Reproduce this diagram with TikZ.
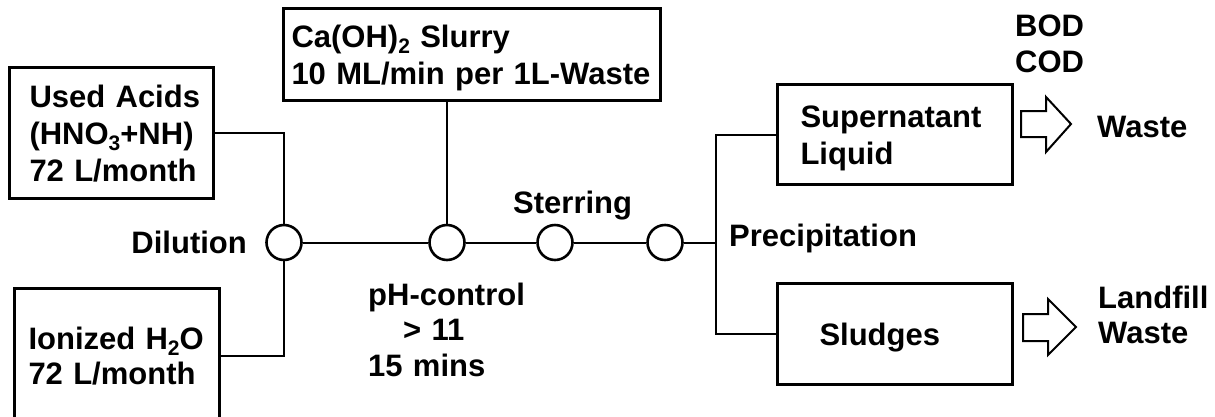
\documentclass[tikz,border=0pt]{standalone}
\usepackage{fontspec}
\setmainfont{Liberation Sans}
\newcommand{\chemsub}[1]{\raisebox{-6pt}{\fontsize{21}{21}\selectfont #1}}
\newcommand{\ind}[1]{\hspace*{#1pt}}
\begin{document}
\begin{tikzpicture}[x=1pt,y=-1pt,
  font=\fontsize{31}{37}\selectfont\bfseries,
  box/.style={draw, line width=3pt, rectangle, anchor=north west, inner sep=0pt, align=left, text height=22pt},
  hub/.style={draw, circle, line width=2.6pt, minimum size=35pt, inner sep=0pt},
  link/.style={line width=2pt},
  lbl/.style={inner sep=0pt, align=left, anchor=base west},
  flow/.style={draw, line width=2pt, line join=miter}]
\useasboundingbox (0,0) rectangle (1215,416);
\fill[white] (0,0) rectangle (1215,416);

% boxes
\node[box, minimum width=204pt, minimum height=131pt, text width=204pt, text depth=74pt] (acid) at (8,66) {\ind{20}Used Acids\\\ind{20}(HNO\chemsub{3}+NH)\\\ind{20}72 L/month};
\node[box, minimum width=377pt, minimum height=92pt, text width=377pt, text depth=37pt] (slurry) at (282,7) {\ind{8}Ca(OH)\chemsub{2} Slurry\\\ind{8}10 ML/min per 1L-Waste};
\node[box, minimum width=205pt, minimum height=135pt, text width=205pt, text depth=35pt, font=\fontsize{31}{35}\selectfont\bfseries] (water) at (13,287) {\ind{14}Ionized H\chemsub{2}O\\\ind{14}72 L/month};
\node[box, minimum width=235pt, minimum height=100pt, text width=235pt, text depth=37pt] (super) at (776,83) {\ind{23}Supernatant\\\ind{23}Liquid};
\node[box, minimum width=235pt, minimum height=101pt, text width=235pt, text depth=0pt] (sludge) at (776,282) {\ind{42}Sludges};

% hubs
\node[hub] (dil) at (284,242.5) {};
\node[hub] (ph) at (447,242.5) {};
\node[hub] (st) at (555,242.5) {};
\node[hub] (pr) at (665,242.5) {};
\coordinate (split) at (716,242.5);

% connectors
\draw[link] (acid.east) -| (dil.north);
\draw[link] (water.east) -| (dil.south);
\draw[link] (dil) -- (ph) -- (st) -- (pr) -- (split);
\draw[link] (ph.north) -- (ph.north |- slurry.south);
\draw[link] (super.west) -| (split) |- (sludge.west);

% labels
\node[lbl, anchor=base east] (dlab) at (247,253) {Dilution};
\node[lbl] (slab) at (513,213) {Sterring};
\node[lbl, text width=170pt, font=\fontsize{31}{35.5}\selectfont\bfseries] (phlab) at (368,305) {pH-control\\\ind{35}> 11\\15 mins};
\node[lbl] (prlab) at (729,246) {Precipitation};
\node[lbl, text width=90pt, font=\fontsize{31}{36}\selectfont\bfseries] (bod) at (1015,36) {BOD\\COD};
\node[lbl] (w1) at (1097,137) {Waste};
\node[lbl, text width=115pt, font=\fontsize{31}{35}\selectfont\bfseries] (w2) at (1098,308) {Landfill\\Waste};

% block arrows
\draw[flow] (1021,111) -- (1046,111) -- (1046,97) -- (1071,124) -- (1046,152) -- (1046,137) -- (1021,137) -- cycle;
\draw[flow] (1023,314) -- (1048,314) -- (1048,299) -- (1076,327) -- (1048,355) -- (1048,341) -- (1023,341) -- cycle;
\end{tikzpicture}
\end{document}
